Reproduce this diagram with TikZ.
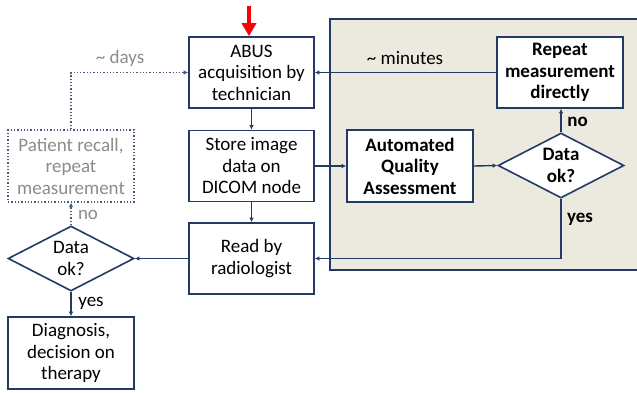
\documentclass[tikz,border=0pt]{standalone}
\usepackage{fontspec}
\setmainfont{Carlito}
\usetikzlibrary{shapes.geometric,arrows.meta}
\definecolor{navy}{RGB}{35,58,100}
\definecolor{panelfill}{RGB}{236,233,223}
\definecolor{dimtext}{RGB}{140,140,140}
\definecolor{dimline}{RGB}{70,90,125}
\newcommand\flowfont{\fontsize{19}{21.5}\selectfont}
\tikzset{
  x=1pt, y=-1pt,
  every node/.style={font=\flowfont},
  box/.style={draw=navy, line width=1.6pt, fill=white, align=center,
    minimum width=125pt, minimum height=71pt, inner sep=1pt},
  dimbox/.style={draw=dimline, line width=1.3pt, dotted, fill=white, align=center,
    minimum width=126pt, minimum height=72pt, inner sep=1pt, text=dimtext},
  decision/.style={diamond, aspect=1.94, draw=navy, line width=1.6pt, fill=white,
    align=center, inner sep=0pt, minimum width=126pt, minimum height=65pt},
  flow/.style={draw=navy, line width=1.4pt, -{Latex[length=4.5pt,width=4.5pt]}},
  dimflow/.style={draw=dimline, line width=1.3pt, dotted, -{Latex[length=4.5pt,width=4.5pt]}},
  lbl/.style={inner sep=0pt},
  boldtext/.style={font=\flowfont\bfseries},
  redarrow/.style={draw=red, line width=4pt, -{Triangle[length=13pt,width=14pt]}},
}
\begin{document}
\begin{tikzpicture}
\useasboundingbox (0,0) rectangle (637,392);

% shaded region of the automated loop
\fill[panelfill] (330,19) rectangle (637,270);
\draw[navy, line width=1.4pt] (637,19) -- (330,19) -- (330,270) -- (637,270);

% process steps
\node[box] (abus)  at (251.5,72.5) {ABUS\\acquisition by\\technician};
\node[box] (store) at (251.5,166)  {Store image\\data on\\DICOM node};
\node[box] (read)  at (251.5,258.5) {Read by\\radiologist};
\node[dimbox] (recall) at (71,166) {Patient recall,\\repeat\\measurement};
\node[decision] (dl) at (71,258.5) {Data\\ok?};
\node[box, minimum width=126pt, minimum height=72pt] (diag) at (71,353) {Diagnosis,\\decision on\\therapy};
\node[box, minimum width=126pt, minimum height=72pt, boldtext] (aqa) at (410,166) {Automated\\Quality\\Assessment};
\node[box, minimum width=126pt, boldtext] (rep) at (560,72.5) {Repeat\\measurement\\directly};
\node[decision, boldtext] (dr) at (561,165.5) {Data\\ok?};

% start marker
\coordinate (redtop) at (249,6);
\draw[redarrow] (redtop) -- (redtop |- abus.north);

% connectors
\draw[flow] (abus) -- (store);
\draw[flow] (store) -- (read);
\draw[flow] (store.east) -- (aqa.west);
\draw[flow] (aqa.east) -- (dr.west);
\draw[flow] (dr.north) -- (rep.south -| dr.north);
\draw[flow] (rep.west |- abus.east) -- (abus.east);
\coordinate (yesturn) at (dr.south |- read.east);
\draw[flow] (dr.south) -- (yesturn) -- (read.east);
\draw[flow] (read.west) -- (dl.east);
\draw[flow] (dl.south) -- (diag.north);
\draw[dimflow] (dl.north) -- (recall.south);
\coordinate (daysturn) at (recall.north |- abus.west);
\draw[dimflow] (recall.north) -- (daysturn) -- (abus.west);

% labels
\node[lbl, text=dimtext] (days) at (120,58) {\textasciitilde{} days};
\node[lbl] (minutes) at (405,58) {\textasciitilde{} minutes};
\node[lbl, boldtext] (noR) at (577.5,122) {no};
\node[lbl, boldtext] (yesR) at (580,219) {yes};
\node[lbl, text=dimtext] (noL) at (88,215) {no};
\node[lbl] (yesL) at (91,303) {yes};
\end{tikzpicture}
\end{document}
